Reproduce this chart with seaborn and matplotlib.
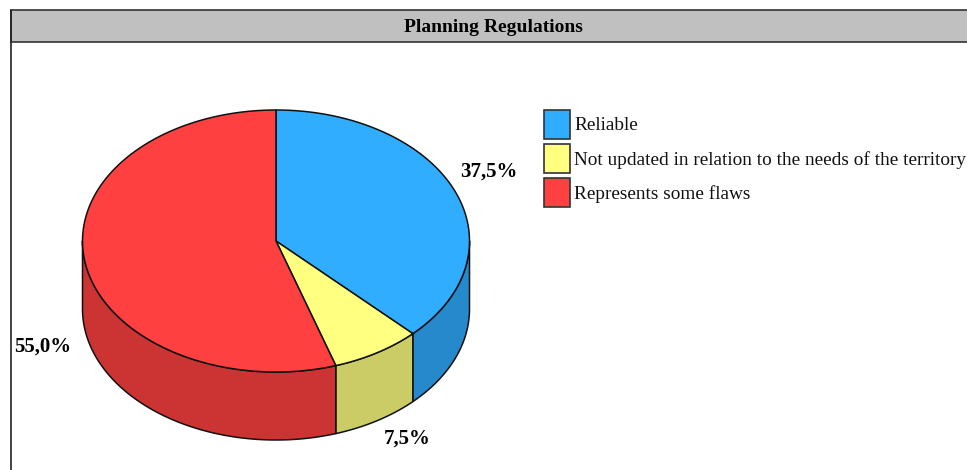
import numpy as np
import seaborn as sns
import matplotlib.pyplot as plt
from matplotlib.patches import Polygon, Rectangle

# chart values
title = "Planning Regulations"
categories = ["Reliable", "Not updated in relation to the needs of the territory", "Represents some flaws"]
shares = [37.5, 7.5, 55.0]
share_labels = ["37,5%", "7,5%", "55,0%"]
top_colors = ["#30ADFF", "#FFFF80", "#FF4040"]
side_colors = ["#2689CC", "#CCCC66", "#CC3333"]

# pie geometry in pixels
cx, cy = 276, 241
rx, ry = 193.5, 131
depth = 68
label_pos = [(489, 172), (407, 439), (43, 347)]


def rim(a0, a1):
    # angle runs clockwise from 12 o'clock
    t = np.radians(np.linspace(a0, a1, 120))
    return np.column_stack([cx + rx * np.sin(t), cy - ry * np.cos(t)])


sns.set_theme(style="white")
plt.rcParams["font.family"] = ["Liberation Serif", "DejaVu Serif"]

fig = plt.figure(figsize=(9.67, 4.70), dpi=100)
ax = fig.add_axes([0, 0, 1, 1])
ax.set_xlim(0, 967)
ax.set_ylim(470, 0)
ax.axis("off")

# frame and title bar
ax.add_patch(Rectangle((10.5, 9.5), 970, 32, fc="#C0C0C0", ec="#333333", lw=1.2))
ax.plot([10.5, 10.5], [9.5, 470], color="#222222", lw=1.2)
ax.text(493, 28, title, ha="center", va="center", fontsize=14, fontweight="bold", color="black")

edges = np.cumsum([0] + shares) * 3.6

# side walls, only the front half of the rim shows
for i in range(3):
    a0 = max(edges[i], 90)
    a1 = min(edges[i + 1], 270)
    if a1 <= a0:
        continue
    arc = rim(a0, a1)
    wall = np.vstack([arc, (arc + [0, depth])[::-1]])
    ax.add_patch(Polygon(wall, closed=True, fc=side_colors[i], ec="#111111", lw=1.1, joinstyle="round"))

# top face
for i in range(3):
    arc = rim(edges[i], edges[i + 1])
    face = np.vstack([[cx, cy], arc])
    ax.add_patch(Polygon(face, closed=True, fc=top_colors[i], ec="#111111", lw=1.1, joinstyle="round"))

for txt, (x, y) in zip(share_labels, label_pos):
    ax.text(x, y, txt, ha="center", va="center", fontsize=15, fontweight="bold", color="black")

# legend
for i, name in enumerate(categories):
    y = 110 + i * 34
    ax.add_patch(Rectangle((544, y), 26, 29, fc=top_colors[i], ec="#333333", lw=1.2))
    ax.text(574, y + 16, name, ha="left", va="center", fontsize=13.9, color="#111111")

fig.savefig("out.png", dpi=100)
